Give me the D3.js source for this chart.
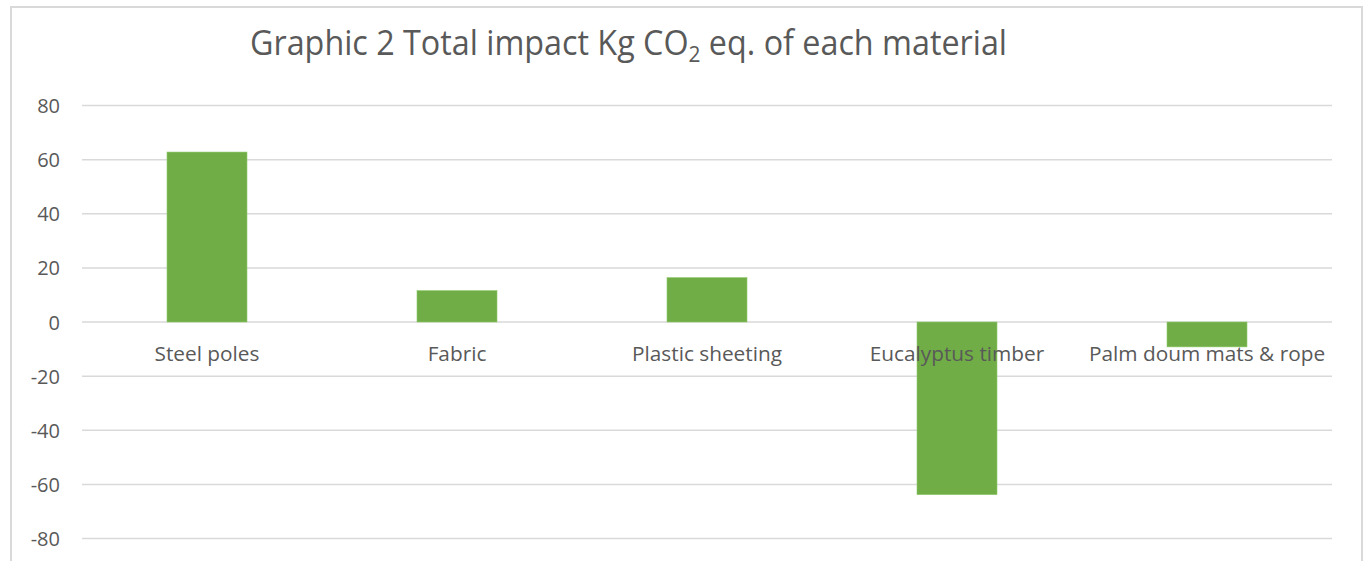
<!DOCTYPE html>
<html>
<head>
<meta charset="utf-8">
<script src="https://cdn.jsdelivr.net/npm/d3@7"></script>
<style>
  body { margin: 0; background: #fff; }
  text { font-family: "Open Sans", sans-serif; fill: #595959; }
</style>
</head>
<body>
<svg width="1368" height="561"></svg>
<script>
var categories = ["Steel poles", "Fabric", "Plastic sheeting", "Eucalyptus timber", "Palm doum mats & rope"];
var values = [62.8, 11.6, 16.4, -63.8, -9.2];
var yTicks = [-80, -60, -40, -20, 0, 20, 40, 60, 80];

var svg = d3.select("svg"),
    width = +svg.attr("width"),
    height = +svg.attr("height");

// chart frame
svg.append("rect")
    .attr("x", 11).attr("y", 7)
    .attr("width", 1351).attr("height", 600)
    .attr("fill", "none")
    .attr("stroke", "#d9d9d9")
    .attr("stroke-width", 2);

var x = d3.scaleBand().domain(categories).range([82, 1332]).paddingInner(0).paddingOuter(0);
var y = d3.scaleLinear().domain([-80, 80]).range([538.5, 105.5]);
var barW = 80;

// gridlines
svg.append("g").selectAll("line")
    .data(yTicks)
    .enter().append("line")
    .attr("x1", 82).attr("x2", 1332)
    .attr("y1", function (d) { return y(d); })
    .attr("y2", function (d) { return y(d); })
    .attr("stroke", "#d9d9d9")
    .attr("stroke-width", 1.5);

// y axis labels (plain hyphen for negatives, like Excel)
var yAxis = d3.axisLeft(y).tickValues(yTicks).tickSize(0).tickPadding(0)
    .tickFormat(function (d) { return String(d); });
var ga = svg.append("g").attr("transform", "translate(60,0)").call(yAxis);
ga.select(".domain").remove();
ga.selectAll("text")
    .attr("font-family", "Open Sans, sans-serif")
    .attr("font-size", 20)
    .attr("fill", "#595959")
    .attr("dy", "0.35em");

// bars
svg.append("g").selectAll("rect")
    .data(values)
    .enter().append("rect")
    .attr("x", function (d, i) { return x(categories[i]) + x.bandwidth() / 2 - barW / 2; })
    .attr("y", function (d) { return Math.min(y(d), y(0)); })
    .attr("width", barW)
    .attr("height", function (d) { return Math.abs(y(d) - y(0)); })
    .attr("fill", "#70ad47")
    .attr("stroke", "#8fc96a")
    .attr("stroke-width", 0.6);

// category labels
svg.append("g").selectAll("text")
    .data(categories)
    .enter().append("text")
    .attr("x", function (d) { return x(d) + x.bandwidth() / 2; })
    .attr("y", 361)
    .attr("text-anchor", "middle")
    .attr("font-size", 20.8)
    .text(function (d) { return d; });

// title
var title = svg.append("text")
    .attr("x", 250).attr("y", 55)
    .attr("font-size", 34)
    .attr("textLength", 757)
    .attr("lengthAdjust", "spacingAndGlyphs");
title.append("tspan").text("Graphic 2 Total impact Kg CO");
title.append("tspan").attr("font-size", 22).attr("dy", 7).text("2");
title.append("tspan").attr("dy", -7).text(" eq. of each material");
</script>
</body>
</html>
